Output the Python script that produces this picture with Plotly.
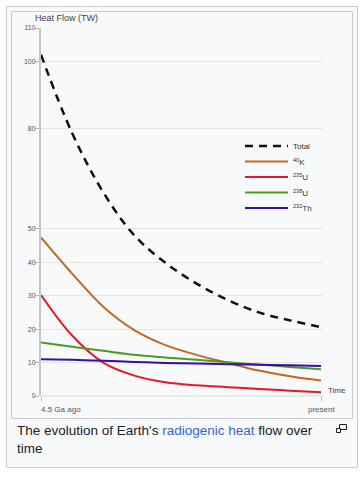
import plotly.graph_objects as go

# ---- data ----
time_ga = [0, 0.5, 1.0, 1.5, 2.0, 2.5, 3.0, 3.5, 4.0, 4.5]
total = [102, 78.6, 60.9, 48.0, 39.8, 33.6, 28.7, 25.0, 22.6, 20.6]
k40 = [47.4, 36.6, 26.7, 19.7, 15.2, 12.3, 9.9, 7.6, 5.9, 4.6]
u235 = [30.2, 18.1, 10.0, 6.1, 4.1, 3.2, 2.65, 2.1, 1.6, 1.1]
u238 = [16.0, 14.7, 13.5, 12.3, 11.5, 10.8, 10.1, 9.4, 8.7, 8.0]
th232 = [11.0, 10.8, 10.5, 10.2, 9.9, 9.7, 9.5, 9.35, 9.2, 9.0]

y_ticks = [0, 10, 20, 30, 40, 50, 80, 100, 110]
x_tick_labels = ["4.5 Ga ago", "present"]
series_names = ["Total", "<sup>40</sup>K", "<sup>235</sup>U", "<sup>238</sup>U", "<sup>232</sup>Th"]
caption = "The evolution of Earth's <span style='color:#3366cc'>radiogenic heat</span> flow over<br>time"

# ---- geometry helpers (pixel -> paper) ----
W, H = 363, 480
PL, PR, PT, PB = 41, 323, 28, 396


def px(x):
    return (x - PL) / (PR - PL)


def py(y):
    return (PB - y) / (PB - PT)


fig = go.Figure()
styles = [
    dict(color="#111111", width=2.5, dash="8px,6px"),
    dict(color="#c06a1e", width=2),
    dict(color="#e8162c", width=2),
    dict(color="#4c9a25", width=2),
    dict(color="#3a0ea0", width=2),
]
series = [total, k40, u235, u238, th232]
for name, vals, st in zip(series_names, series, styles):
    fig.add_trace(go.Scatter(x=time_ga, y=vals, name=name, mode="lines",
                             showlegend=False,
                             line=dict(shape="spline", smoothing=1.0, **st)))

shapes = [
    dict(type="rect", xref="paper", yref="paper", x0=px(6.5), x1=px(357.5),
         y0=py(467.5), y1=py(6.5), fillcolor="#f8f9fa",
         line=dict(color="#c8ccd1", width=1), layer="below"),
    dict(type="rect", xref="paper", yref="paper", x0=px(11.5), x1=px(352.5),
         y0=py(418.5), y1=py(11.5), fillcolor="#f8f9fa",
         line=dict(color="#c8ccd1", width=1), layer="below"),
    dict(type="line", xref="paper", yref="paper", x0=0, x1=1, y0=0, y1=0,
         line=dict(color="#d6d8dc", width=1), layer="below"),
    # caption enlarge icon
    dict(type="rect", xref="paper", yref="paper", x0=px(339.5), x1=px(346.5),
         y0=py(429.5), y1=py(424.5), line=dict(color="#202122", width=1)),
    dict(type="rect", xref="paper", yref="paper", x0=px(336.5), x1=px(340.5),
         y0=py(432.5), y1=py(428.5), fillcolor="#f8f9fa",
         line=dict(color="#202122", width=1)),
]
annotations = [
    dict(text="Heat Flow (TW)", x=px(33), y=py(17.5), xref="paper", yref="paper",
         xanchor="left", yanchor="middle", showarrow=False,
         font=dict(size=9, color="#444")),
    dict(text="Time", x=px(326), y=py(390.5), xref="paper", yref="paper",
         xanchor="left", yanchor="middle", showarrow=False,
         font=dict(size=8, color="#444")),
    dict(text=x_tick_labels[0], x=px(39), y=py(409.5), xref="paper", yref="paper",
         xanchor="left", yanchor="middle", showarrow=False,
         font=dict(size=8, color="#555")),
    dict(text=x_tick_labels[1], x=px(321), y=py(409.5), xref="paper", yref="paper",
         xanchor="center", yanchor="middle", showarrow=False,
         font=dict(size=8, color="#555")),
    dict(text=caption, x=px(15), y=py(421), xref="paper", yref="paper",
         xanchor="left", yanchor="top", align="left", showarrow=False,
         font=dict(size=13.5, color="#202122",
                   family="Liberation Sans, Arial, sans-serif")),
]

# legend drawn in the upper right of the plot area
legend_rows = [146, 161.5, 177, 192.5, 208]
for name, st, ry in zip(series_names, styles, legend_rows):
    shapes.append(dict(type="line", xref="paper", yref="paper",
                       x0=px(245), x1=px(288), y0=py(ry), y1=py(ry),
                       line=dict(color=st["color"], width=st["width"],
                                 dash=st.get("dash", "solid"))))
    annotations.append(dict(text=name, x=px(291), y=py(ry), xref="paper", yref="paper",
                            xanchor="left", yanchor="middle", showarrow=False,
                            font=dict(size=8, color="#333")))

fig.update_layout(
    width=W, height=H,
    margin=dict(l=PL, r=W - PR, t=PT, b=H - PB, pad=0),
    paper_bgcolor="white",
    plot_bgcolor="rgba(0,0,0,0)",
    font=dict(family="Liberation Sans, Arial, sans-serif", color="#444"),
    showlegend=False,
    xaxis=dict(range=[0, 4.5 * (PR - PL) / 280], showgrid=False, zeroline=False,
               tickvals=[0, 4.5], ticktext=["", ""], ticks="outside", ticklen=4,
               tickcolor="#bbbbbb", showline=False, fixedrange=True),
    yaxis=dict(range=[0, 110], tickvals=y_ticks, ticks="outside", ticklen=4,
               tickcolor="#bbbbbb", tickfont=dict(size=7, color="#555"),
               ticklabelstandoff=-2,
               showgrid=True, gridcolor="#e3e5e8", gridwidth=1, zeroline=False,
               showline=True, linecolor="#c4c6ca", linewidth=2, fixedrange=True),
    shapes=shapes,
    annotations=annotations,
)

fig.write_html("out.html", config=dict(displayModeBar=False),
               post_script="document.body.style.margin='0';")
